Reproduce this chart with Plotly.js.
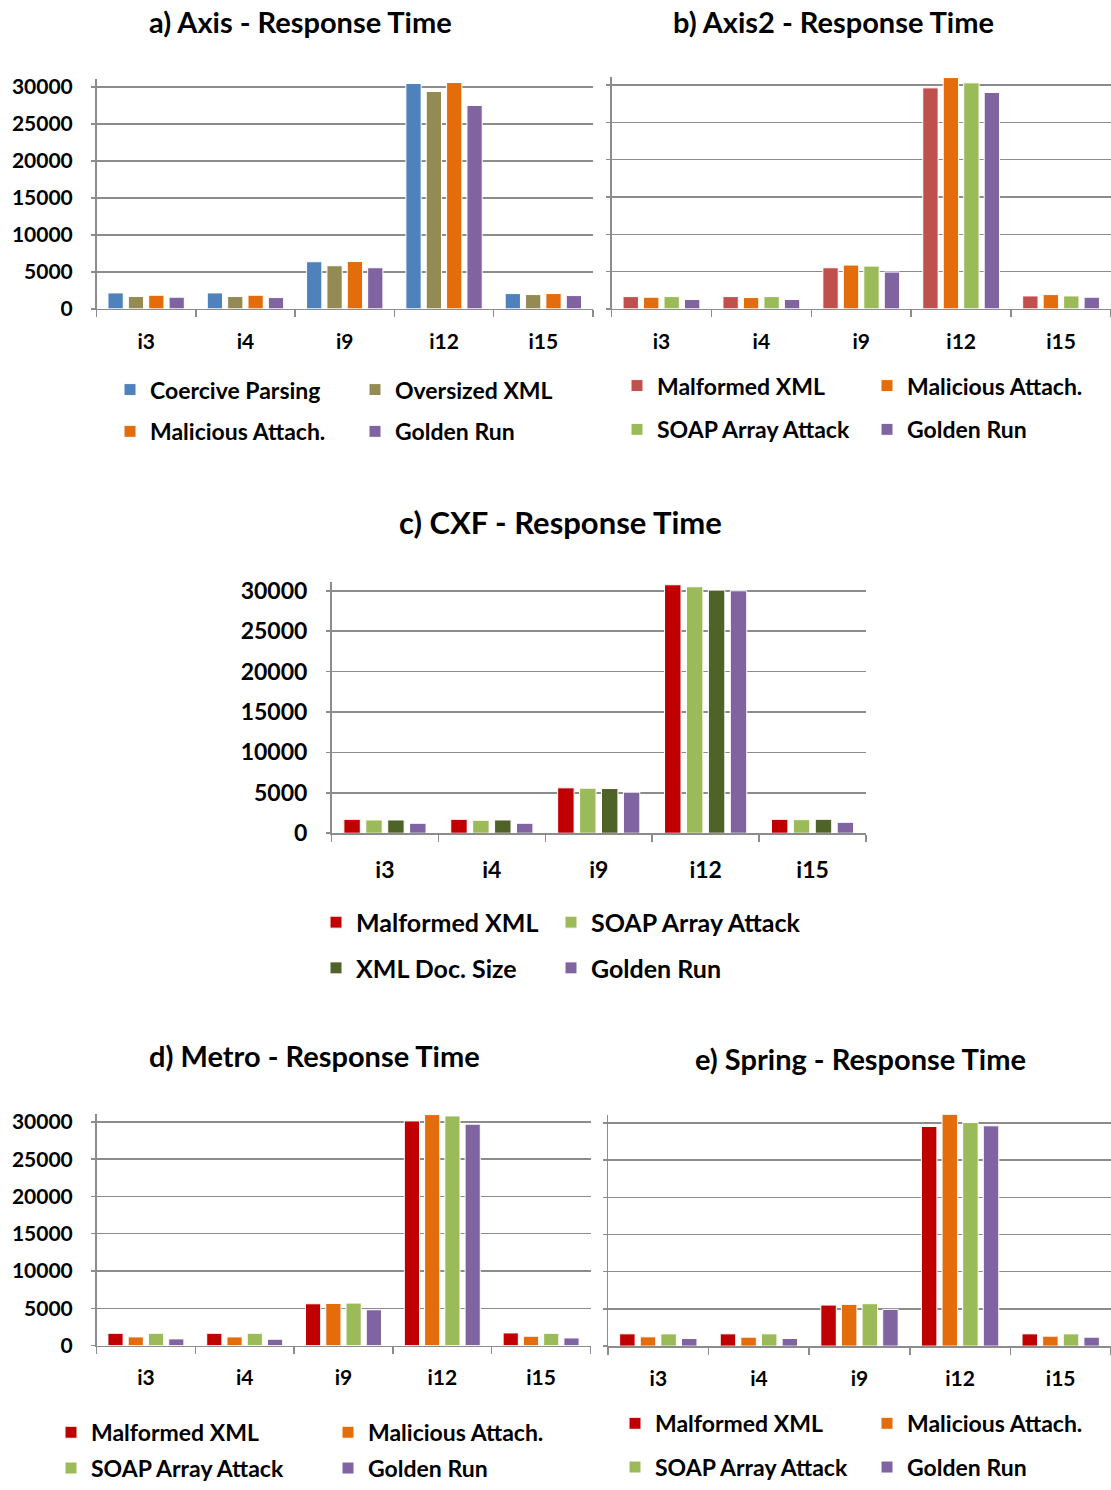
<!DOCTYPE html>
<html>
<head>
<meta charset="utf-8">
<script src="https://cdn.plot.ly/plotly-3.0.1.min.js"></script>
<style>html,body{margin:0;padding:0;background:#fff;}#chart{width:1111px;height:1490px;}</style>
</head>
<body>
<div id="chart"></div>
<script>
// ---- data ----
const categories = ['i3', 'i4', 'i9', 'i12', 'i15'];

// a) Axis
const axisCoercive  = [2150, 2150, 6360, 30440, 2060];
const axisOversized = [1660, 1660, 5820, 29360, 1925];
const axisMalicious = [1835, 1835, 6400, 30570, 2060];
const axisGolden    = [1570, 1520, 5550, 27480, 1790];

// b) Axis2
const axis2Malformed = [1640, 1640, 5510, 29640, 1730];
const axis2Malicious = [1555, 1510, 5870, 31020, 1910];
const axis2Soap      = [1640, 1640, 5730, 30310, 1730];
const axis2Golden    = [1245, 1245, 4930, 29020, 1555];

// c) CXF
const cxfMalformed = [1720, 1720, 5615, 30740, 1720];
const cxfSoap      = [1640, 1600, 5570, 30490, 1680];
const cxfDocSize   = [1640, 1640, 5530, 30080, 1720];
const cxfGolden    = [1230, 1230, 5080, 30000, 1350];

// d) Metro
const metroMalformed = [1640, 1640, 5600, 30130, 1690];
const metroMalicious = [1155, 1155, 5645, 30980, 1245];
const metroSoap      = [1640, 1640, 5690, 30800, 1640];
const metroGolden    = [890, 845, 4800, 29690, 1020];

// e) Spring
const springMalformed = [1650, 1650, 5520, 29520, 1650];
const springMalicious = [1245, 1200, 5610, 31170, 1335];
const springSoap      = [1650, 1650, 5700, 30050, 1650];
const springGolden    = [1025, 1025, 4940, 29610, 1200];

const yTickVals   = [0, 5000, 10000, 15000, 20000, 25000, 30000];
const yTickLabels = ['0', '5000', '10000', '15000', '20000', '25000', '30000'];

// ---- styling ----
const W = 1111, H = 1490;
const FONT = 'Lato, "Open Sans", sans-serif';
const C = {
  blue: '#4F81BD', olive: '#948A54', orange: '#E46C0A', purple: '#8064A2',
  red: '#C0504D', green: '#9BBB59', dred: '#C00000', dgreen: '#4F6228'
};
const px = v => v / W;
const py = v => 1 - v / H;

function bar(name, y, color, ax, legend, lw) {
  return {
    type: 'bar', name: name, x: categories, y: y,
    xaxis: 'x' + (ax === 1 ? '' : ax), yaxis: 'y' + (ax === 1 ? '' : ax),
    legend: legend, legendwidth: lw,
    marker: {color: color, line: {color: '#ffffff', width: 1}},
    hoverinfo: 'x+y+name'
  };
}

const data = [
  bar('Coercive Parsing', axisCoercive, C.blue, 1, 'legend', 200),
  bar('Oversized XML', axisOversized, C.olive, 1, 'legend', 200),
  bar('Malicious Attach.', axisMalicious, C.orange, 1, 'legend2', 200),
  bar('Golden Run', axisGolden, C.purple, 1, 'legend2', 200),

  bar('Malformed XML', axis2Malformed, C.red, 2, 'legend3', 205),
  bar('Malicious Attach.', axis2Malicious, C.orange, 2, 'legend3', 195),
  bar('SOAP Array Attack', axis2Soap, C.green, 2, 'legend4', 205),
  bar('Golden Run', axis2Golden, C.purple, 2, 'legend4', 195),

  bar('Malformed XML', cxfMalformed, C.dred, 3, 'legend5', 190),
  bar('SOAP Array Attack', cxfSoap, C.green, 3, 'legend5', 240),
  bar('XML Doc. Size', cxfDocSize, C.dgreen, 3, 'legend6', 190),
  bar('Golden Run', cxfGolden, C.purple, 3, 'legend6', 240),

  bar('Malformed XML', metroMalformed, C.dred, 4, 'legend7', 232),
  bar('Malicious Attach.', metroMalicious, C.orange, 4, 'legend7', 200),
  bar('SOAP Array Attack', metroSoap, C.green, 4, 'legend8', 232),
  bar('Golden Run', metroGolden, C.purple, 4, 'legend8', 200),

  bar('Malformed XML', springMalformed, C.dred, 5, 'legend9', 207),
  bar('Malicious Attach.', springMalicious, C.orange, 5, 'legend9', 195),
  bar('SOAP Array Attack', springSoap, C.green, 5, 'legend10', 207),
  bar('Golden Run', springGolden, C.purple, 5, 'legend10', 195)
];

const GRID = '#8C8C8C';
function xAx(dom, anchor, fs, standoff) {
  return {
    domain: dom, anchor: anchor, type: 'category',
    showline: true, linecolor: GRID, linewidth: 1.5,
    ticks: 'outside', tickson: 'boundaries', ticklen: 7, tickcolor: GRID, tickwidth: 1.5,
    ticklabelstandoff: standoff,
    showgrid: false, zeroline: false, fixedrange: true,
    tickfont: {family: FONT, size: fs, color: '#000', weight: 700}
  };
}
function yAx(dom, anchor, showLabels, fs, top) {
  return {
    domain: dom, anchor: anchor, range: [0, top],
    tickvals: yTickVals, ticktext: yTickLabels, showticklabels: showLabels,
    showline: true, linecolor: GRID, linewidth: 1.5,
    ticks: 'outside', ticklen: 4, tickcolor: GRID, tickwidth: 1.5,
    ticklabelstandoff: 14,
    showgrid: true, gridcolor: GRID, gridwidth: 1.5,
    zeroline: false, fixedrange: true,
    tickfont: {family: FONT, size: fs, color: '#000', weight: 700}
  };
}
function leg(xText, yCenter, fs) {
  return {
    orientation: 'h', xref: 'paper', yref: 'paper',
    x: px(xText - 40), y: py(yCenter), xanchor: 'left', yanchor: 'middle',
    bgcolor: 'rgba(0,0,0,0)', borderwidth: 0,
    font: {family: FONT, size: fs, color: '#000', weight: 700},
    traceorder: 'normal'
  };
}
function title(text, xc, yc, fs) {
  return {
    text: text, xref: 'paper', yref: 'paper', x: px(xc), y: py(yc),
    xanchor: 'center', yanchor: 'middle', showarrow: false,
    font: {family: FONT, size: fs, color: '#000', weight: 700}
  };
}

const layout = {
  width: W, height: H,
  margin: {l: 0, r: 0, t: 0, b: 0},
  paper_bgcolor: '#ffffff', plot_bgcolor: '#ffffff',
  barmode: 'group', bargap: 0.18, bargroupgap: 0.25,
  showlegend: true,
  font: {family: FONT, color: '#000'},

  xaxis:  xAx([px(96.5), px(593)], 'y', 21, 13),
  yaxis:  yAx([py(310.7), py(79.1)], 'x', true, 21, 31100),
  xaxis2: xAx([px(611.5), 1.0], 'y2', 21, 13),
  yaxis2: yAx([py(310.7), py(77.45)], 'x2', false, 21, 31100),
  xaxis3: xAx([px(331.5), px(866)], 'y3', 23, 16),
  yaxis3: yAx([py(838.3), py(585.4)], 'x3', true, 23, 31100),
  xaxis4: xAx([px(96.5), px(590.5)], 'y4', 21, 13),
  yaxis4: yAx([py(1353.7), py(1120.45)], 'x4', true, 21, 31100),
  xaxis5: xAx([px(608), 1.0], 'y5', 21, 13),
  yaxis5: yAx([py(1354.3), py(1121.5)], 'x5', false, 21, 31100),

  legend:   leg(150, 392, 23),
  legend2:  leg(150, 434, 23),
  legend3:  leg(657, 388, 23),
  legend4:  leg(657, 432, 23),
  legend5:  leg(356, 928, 25),
  legend6:  leg(356, 974, 25),
  legend7:  leg(91, 1441, 23),
  legend8:  leg(91, 1477, 23),
  legend9:  leg(655, 1432, 23),
  legend10: leg(655, 1476, 23),

  annotations: [
    title('a) Axis - Response Time', 300.5, 22, 29),
    title('b) Axis2 - Response Time', 833, 22, 29),
    title('c) CXF - Response Time', 560, 525, 31),
    title('d) Metro - Response Time', 314.5, 1062, 29),
    title('e) Spring - Response Time', 860.5, 1065, 29)
  ]
};

Plotly.newPlot('chart', data, layout, {displayModeBar: false, staticPlot: true});
</script>
</body>
</html>
